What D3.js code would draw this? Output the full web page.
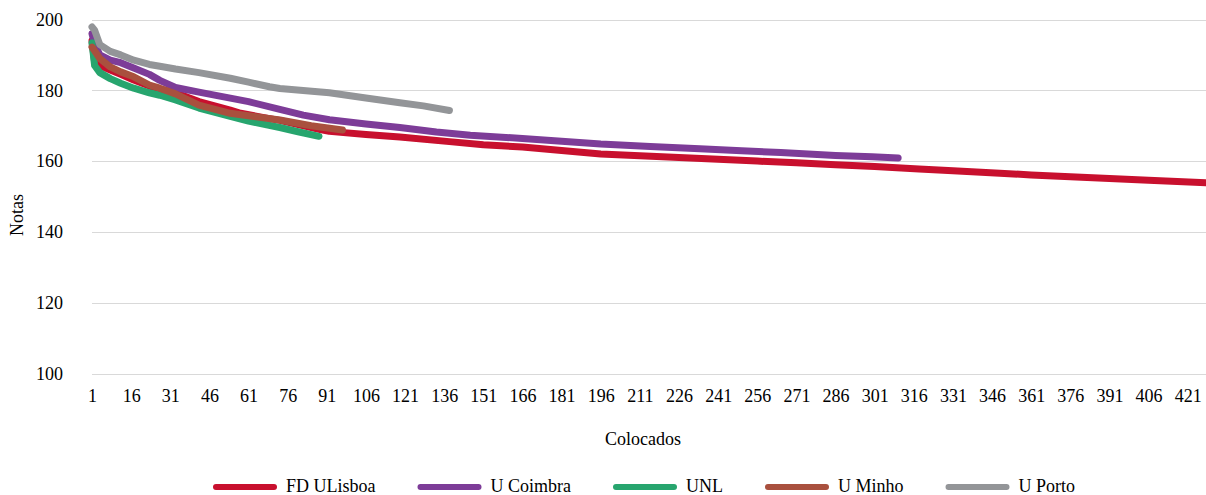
<!DOCTYPE html>
<html><head><meta charset="utf-8">
<script src="https://cdn.jsdelivr.net/npm/d3@7"></script>
<style>body{margin:0;background:#fff}svg{display:block}svg text{font-family:"Liberation Serif","Times New Roman",Times,"DejaVu Serif",serif !important;fill:#000}</style>
</head><body><svg id="c" width="1206" height="495"></svg>
<script>
// Data: [rank (Colocados), grade (Notas)]
const fdULisboa = [[1,194],[2,188],[4,187],[8,185.7],[12,184.5],[17,182.9],[23,181.2],[27,180.3],[33,179.3],[42,176.8],[54,174.4],[58,173.5],[69,172],[73,171.5],[88,169],[92,168.4],[106,167.5],[119,166.8],[138,165.5],[151,164.6],[166,164],[181,163],[196,162],[211,161.5],[226,161],[241,160.5],[256,160],[271,159.5],[286,159],[301,158.5],[318,157.8],[331,157.3],[349,156.6],[361,156.1],[376,155.6],[391,155.1],[406,154.6],[428,153.9]];
const uCoimbra = [[1,196],[2,193],[4,190],[8,188.5],[12,187.8],[17,186.3],[23,184.5],[27,182.8],[33,180.8],[42,179.5],[54,177.8],[61,176.8],[73,174.6],[82,173],[92,171.7],[106,170.5],[119,169.5],[133,168.2],[146,167.3],[166,166.4],[181,165.6],[196,164.8],[215,164.1],[234,163.5],[250,162.9],[265,162.4],[286,161.6],[300,161.2],[310,160.9]];
const unl = [[1,193.4],[2,187],[4,185],[8,183.3],[12,182],[17,180.6],[23,179.3],[27,178.6],[33,177.3],[42,175],[54,172.6],[61,171.3],[73,169.5],[80,168.3],[88,167]];
const uMinho = [[1,192.2],[4,189],[8,186.6],[12,185.2],[17,183.8],[23,181.5],[27,180.6],[33,179],[42,175.8],[54,173.5],[61,172.8],[73,171.6],[85,170],[97,168.8]];
const uPorto = [[1,197.9],[2,197],[4,192.9],[8,191],[12,190],[17,188.5],[23,187.3],[27,186.8],[33,186],[42,185],[54,183.4],[61,182.3],[69,181],[73,180.5],[92,179.3],[106,177.8],[119,176.5],[128,175.6],[138,174.3]];
const seriesNames = ["FD ULisboa","U Coimbra","UNL","U Minho","U Porto"];
const seriesColors = ["#C8102E","#7D3C98","#27A56E","#A9503E","#939598"];
const yTicks = [100,120,140,160,180,200];
const xTicks = [1,16,31,46,61,76,91,106,121,136,151,166,181,196,211,226,241,256,271,286,301,316,331,346,361,376,391,406,421];
const nCategories = 428;

const FONT = '"Liberation Serif","Times New Roman",Times,"DejaVu Serif",serif';
const allSeries = [fdULisboa,uCoimbra,unl,uMinho,uPorto];
const svg = d3.select("#c");
const x = d3.scaleLinear().domain([1,nCategories]).range([92,1206]);
const y = d3.scaleLinear().domain([100,200]).range([373.5,19.5]);

// gridlines
svg.append("g").selectAll("line").data(yTicks).join("line")
  .attr("x1",92).attr("x2",1206).attr("y1",d=>Math.round(y(d))+0.5).attr("y2",d=>Math.round(y(d))+0.5)
  .attr("stroke","#d9d9d9").attr("stroke-width",1);

// y axis labels
const yAxis = d3.axisLeft(y).tickValues(yTicks).tickSize(0).tickPadding(0);
const gy = svg.append("g").attr("transform","translate(63,0)").call(yAxis)
  .attr("font-family",FONT).attr("font-size",18);
gy.select(".domain").remove();
gy.selectAll("text").attr("fill","#000");

// x axis labels
const xAxis = d3.axisBottom(x).tickValues(xTicks).tickSize(0).tickPadding(0).tickFormat(d3.format("d"));
const gx = svg.append("g").attr("transform","translate(0,389)").call(xAxis)
  .attr("font-family",FONT).attr("font-size",18);
gx.select(".domain").remove();
gx.selectAll("text").attr("fill","#000");

// lines
const line = d3.line().x(d=>x(d[0])).y(d=>y(d[1]));
svg.append("g").selectAll("path").data(allSeries).join("path")
  .attr("d",line).attr("fill","none")
  .attr("stroke",(d,i)=>seriesColors[i]).attr("stroke-width",7)
  .attr("stroke-linecap","round").attr("stroke-linejoin","round");

// axis titles
svg.append("text").attr("x",643).attr("y",445).attr("text-anchor","middle")
  .attr("font-family",FONT).attr("font-size",18).text("Colocados");
svg.append("text").attr("transform","translate(23,215) rotate(-90)").attr("text-anchor","middle")
  .attr("font-family",FONT).attr("font-size",18).text("Notas");

// legend
const lg = svg.append("g").attr("font-family",FONT).attr("font-size",18);
let cx = 0;
seriesNames.forEach((name,i)=>{
  const g = lg.append("g");
  g.append("line").attr("x1",cx+3).attr("x2",cx+61).attr("y1",0).attr("y2",0)
    .attr("stroke",seriesColors[i]).attr("stroke-width",6).attr("stroke-linecap","round");
  const t = g.append("text").attr("x",cx+73).attr("y",5).text(name);
  const w = t.node().getComputedTextLength();
  cx += 73 + w + 42;
});
const total = cx - 42;
lg.attr("transform",`translate(${Math.round(644.5-total/2)},487)`);
</script></body></html>
